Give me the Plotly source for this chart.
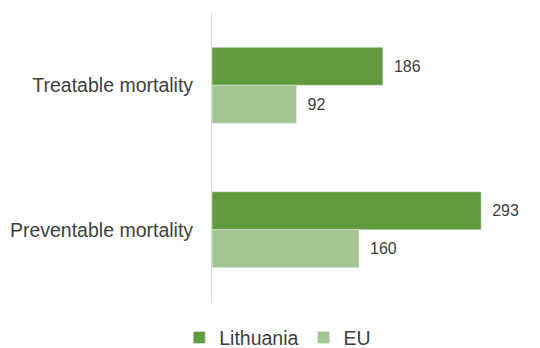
import plotly.graph_objects as go

categories = ["Treatable mortality", "Preventable mortality"]
lithuania = [186, 293]
eu = [92, 160]

_FONT = "Liberation Sans, Arial, sans-serif"
_TEXT = "#404040"

fig = go.Figure()
fig.add_trace(go.Bar(y=categories, x=lithuania, name="Lithuania", orientation="h",
                     marker=dict(color="#629b3e"), texttemplate="\u2002%{x}",
                     textposition="outside", cliponaxis=False,
                     textfont=dict(size=16, color=_TEXT)))
fig.add_trace(go.Bar(y=categories, x=eu, name="EU", orientation="h",
                     marker=dict(color="#a3c690"), texttemplate="\u2002%{x}",
                     textposition="outside", cliponaxis=False,
                     textfont=dict(size=16, color=_TEXT)))

# the page body adds an 8px margin, so the figure is 8px smaller than the window
fig.update_layout(
    width=532, height=340, barmode="group", bargap=0.474, bargroupgap=0,
    plot_bgcolor="white", paper_bgcolor="white",
    font=dict(family=_FONT, color=_TEXT),
    margin=dict(l=204, r=0, t=5, b=46),
    xaxis=dict(range=[0, 357], showticklabels=False, showgrid=False, zeroline=False,
               showline=False),
    yaxis=dict(autorange="reversed", showline=True, linecolor="#d9d9d9", linewidth=1,
               ticks="", ticklabelstandoff=14, automargin=False,
               tickfont=dict(size=19.5, color=_TEXT)),
    legend=dict(orientation="h", xref="container", yref="container",
                x=0.507, xanchor="center", y=0.03, yanchor="middle",
                font=dict(size=19.5, color=_TEXT), traceorder="normal"),
)

fig.write_html("out.html")
